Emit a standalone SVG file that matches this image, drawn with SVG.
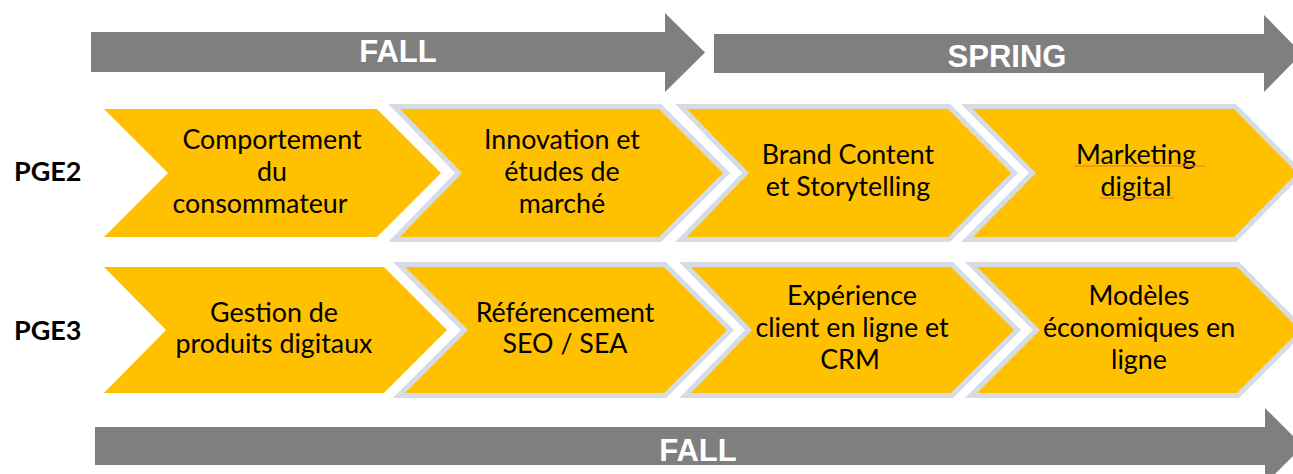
<svg xmlns="http://www.w3.org/2000/svg" width="1293" height="474" viewBox="0 0 1293 474">
  <style>
    .band { fill: #7F7F7F; }
    .bandtxt { font-family: "Liberation Sans", Arial, sans-serif; font-weight: bold; font-size: 31px; fill: #FFFFFF; text-anchor: middle; }
    .chev { fill: #FFC000; }
    .chevb { fill: #FFC000; stroke: #D6DCE5; stroke-width: 10; stroke-linejoin: miter; paint-order: stroke; }
    .lbl { font-family: Lato, "Open Sans", sans-serif; font-size: 26.8px; fill: #000000; text-anchor: middle; }
    .row { font-family: Lato, "Open Sans", sans-serif; font-weight: bold; font-size: 27px; fill: #000000; }
    .spell { stroke: #E8743B; stroke-width: 1; }
  </style>
  <rect width="1293" height="474" fill="#FFFFFF"/>

  <g id="band-fall-top">
    <polygon class="band" points="91,32 665,32 665,13 705,52.5 665,92 665,72 91,72"/>
    <text class="bandtxt" x="398" y="62">FALL</text>
  </g>
  <g id="band-spring">
    <polygon class="band" points="714,34 1264,34 1264,15 1302,53.5 1264,92 1264,73 714,73"/>
    <text class="bandtxt" x="1007" y="67">SPRING</text>
  </g>
  <g id="band-fall-bottom">
    <polygon class="band" points="95,427 1265,427 1265,408 1303,446 1265,484 1265,465 95,465"/>
    <text class="bandtxt" x="698" y="461">FALL</text>
  </g>

  <g id="label-pge2"><text class="row" x="14" y="181">PGE2</text></g>
  <g id="label-pge3"><text class="row" x="14" y="340">PGE3</text></g>

  <g id="pge2-1">
    <polygon class="chev" points="104,109 377,109 441,173 377,237 104,237 168,173"/>
    <text class="lbl" x="272" y="149">Comportement</text>
    <text class="lbl" x="272" y="181">du</text>
    <text class="lbl" x="260" y="213">consommateur</text>
  </g>
  <g id="pge2-2">
    <polygon class="chevb" points="400,109 659,109 723,173 659,237 400,237 462,173"/>
    <text class="lbl" x="562" y="149">Innovation et</text>
    <text class="lbl" x="562" y="181">études de</text>
    <text class="lbl" x="562" y="213">marché</text>
  </g>
  <g id="pge2-3">
    <polygon class="chevb" points="687,109 948,109 1011,173 948,237 687,237 749,173"/>
    <text class="lbl" x="848" y="164">Brand Content</text>
    <text class="lbl" x="848" y="196">et Storytelling</text>
  </g>
  <g id="pge2-4">
    <polygon class="chevb" points="973,109 1234,109 1297,173 1234,237 973,237 1036,173"/>
    <text class="lbl" x="1136" y="164">Marketing</text>
    <text class="lbl" x="1136" y="196">digital</text>
    <line class="spell" x1="1074" y1="166" x2="1205" y2="166"/>
    <line class="spell" x1="1100" y1="198" x2="1174" y2="198"/>
  </g>

  <g id="pge3-1">
    <polygon class="chev" points="104,267 384,267 447,330 384,393 104,393 166,330"/>
    <text class="lbl" x="274" y="322">Gestion de</text>
    <text class="lbl" x="274" y="353">produits digitaux</text>
  </g>
  <g id="pge3-2">
    <polygon class="chevb" points="405,267 664,267 727,330 664,393 405,393 468,330"/>
    <text class="lbl" x="565" y="322">Référencement</text>
    <text class="lbl" x="565" y="353">SEO / SEA</text>
  </g>
  <g id="pge3-3">
    <polygon class="chevb" points="691,267 951,267 1014,330 951,393 691,393 752,330"/>
    <text class="lbl" x="852" y="305">Expérience</text>
    <text class="lbl" x="852" y="337">client en ligne et</text>
    <text class="lbl" x="850" y="369">CRM</text>
  </g>
  <g id="pge3-4">
    <polygon class="chevb" points="977,267 1237,267 1300,330 1237,393 977,393 1040,330"/>
    <text class="lbl" x="1139" y="305">Modèles</text>
    <text class="lbl" x="1139" y="337">économiques en</text>
    <text class="lbl" x="1139" y="369">ligne</text>
  </g>

  <g id="connectors"></g>
</svg>
